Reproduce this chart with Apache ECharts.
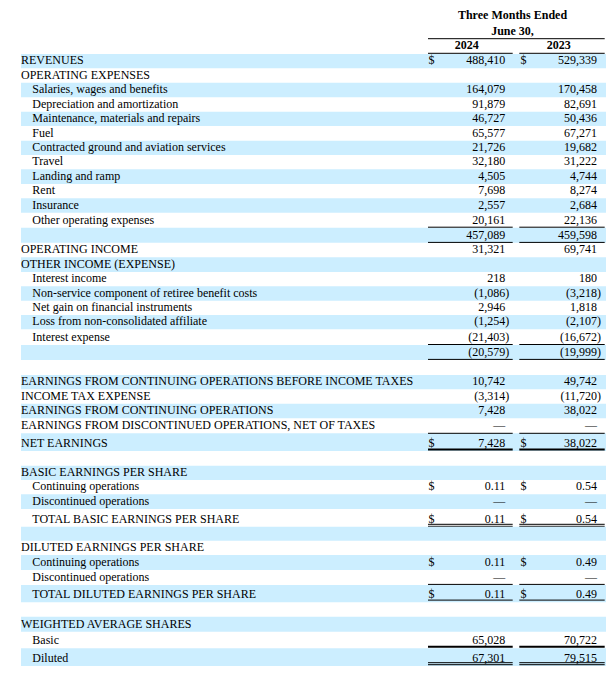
<!DOCTYPE html>
<html>
<head>
<meta charset="utf-8">
<script src="https://cdn.jsdelivr.net/npm/echarts@6/dist/echarts.min.js"></script>
<style>
html,body{margin:0;padding:0;background:#fff;}
#chart{width:606px;height:676px;}
</style>
</head>
<body>
<div id="chart"></div>
<script>
// ---------------- DATA ----------------
const headerTitle = ['Three Months Ended', 'June 30,'];
const periodLabels = ['2024', '2023'];

const rowLabels = [
  'REVENUES',
  'OPERATING EXPENSES',
  'Salaries, wages and benefits',
  'Depreciation and amortization',
  'Maintenance, materials and repairs',
  'Fuel',
  'Contracted ground and aviation services',
  'Travel',
  'Landing and ramp',
  'Rent',
  'Insurance',
  'Other operating expenses',
  '',
  'OPERATING INCOME',
  'OTHER INCOME (EXPENSE)',
  'Interest income',
  'Non-service component of retiree benefit costs',
  'Net gain on financial instruments',
  'Loss from non-consolidated affiliate',
  'Interest expense',
  '',
  '',
  'EARNINGS FROM CONTINUING OPERATIONS BEFORE INCOME TAXES',
  'INCOME TAX EXPENSE',
  'EARNINGS FROM CONTINUING OPERATIONS',
  'EARNINGS FROM DISCONTINUED OPERATIONS, NET OF TAXES',
  'NET EARNINGS',
  '',
  'BASIC EARNINGS PER SHARE',
  'Continuing operations',
  'Discontinued operations',
  'TOTAL BASIC EARNINGS PER SHARE',
  '',
  'DILUTED EARNINGS PER SHARE',
  'Continuing operations',
  'Discontinued operations',
  'TOTAL DILUTED EARNINGS PER SHARE',
  '',
  'WEIGHTED AVERAGE SHARES',
  'Basic',
  'Diluted'
];

const values2024 = [
  488410, null, 164079, 91879, 46727, 65577, 21726, 32180, 4505, 7698, 2557, 20161,
  457089, 31321, null, 218, -1086, 2946, -1254, -21403, -20579, null,
  10742, -3314, 7428, 0, 7428, null,
  null, 0.11, 0, 0.11, null,
  null, 0.11, 0, 0.11, null,
  null, 65028, 67301
];

const values2023 = [
  529339, null, 170458, 82691, 50436, 67271, 19682, 31222, 4744, 8274, 2684, 22136,
  459598, 69741, null, 180, -3218, 1818, -2107, -16672, -19999, null,
  49742, -11720, 38022, 0, 38022, null,
  null, 0.54, 0, 0.54, null,
  null, 0.49, 0, 0.49, null,
  null, 70722, 79515
];

// rows that carry a dollar sign
const dollarRows = [0, 26, 29, 31, 34, 36];

// ---------------- LAYOUT / STYLE ----------------
const indentedRows = [2,3,4,5,6,7,8,9,10,11,15,16,17,18,19,29,30,31,34,35,36,39,40];
const twoDecimalRows = [29,30,31,34,35,36];
const rowHeights = [
  14.3,14.4,14.6,14.4,14.3,14.7,14.3,14.3,14.7,14.3,14.4,15.0,15.0,
  14.6,14.7,14.3,14.4,14.3,14.3,15.7,15.0,15.0,
  14.3,14.4,14.6,15.0,17.7,14.7,
  14.3,14.3,14.7,17.7,14.0,
  14.3,15.0,15.0,17.3,14.4,
  15.0,16.6,17.7
];
const tableTop = 54;
const rules = [
  {row: 12, edge: 'top', kind: 'single', off: -0.5},
  {row: 12, edge: 'bottom', kind: 'single', off: -0.3},
  {row: 20, edge: 'top', kind: 'single', off: -0.5},
  {row: 20, edge: 'bottom', kind: 'single', off: -0.6},
  {row: 26, edge: 'top', kind: 'single', off: 0},
  {row: 26, edge: 'bottom', kind: 'thick', off: -1.4},
  {row: 31, edge: 'bottom', kind: 'double', off: -0.4},
  {row: 36, edge: 'top', kind: 'single', off: -0.6},
  {row: 36, edge: 'bottom', kind: 'single', off: -2.2},
  {row: 39, edge: 'bottom', kind: 'thick', off: -1.6},
  {row: 40, edge: 'bottom', kind: 'double', off: -1.3}
];
const colSpans = [[428, 512.7], [519.3, 604.7]];
const dollarX = [428.6, 520.6];
const numRightX = [505.3, 597];
const labelX = 21, indentX = 32.3, bandLeft = 21, bandRight = 606;
const textLift = 8.1;
const BLUE = '#cceeff';
const FONT = '"Liberation Serif", "Times New Roman", Times, serif';
const FS = 12;

// cumulative row tops
const rowTops = [];
{ let y = tableTop; for (let i = 0; i < rowHeights.length; i++) { rowTops.push(y); y += rowHeights[i]; } }

function fmt(v, row) {
  if (v === null || v === undefined) return '';
  if (v === 0) return '\u2014';
  const a = Math.abs(v);
  const s = twoDecimalRows.includes(row) ? a.toFixed(2) : a.toLocaleString('en-US');
  return v < 0 ? '(' + s + ')' : s;
}

function txt(p, s, align, bold) {
  return {
    type: 'text', x: p[0], y: p[1], silent: true,
    style: { text: s, fill: '#000', fontFamily: FONT, fontSize: FS,
             fontWeight: bold ? 'bold' : 'normal', align: align, verticalAlign: 'middle' }
  };
}
function hline(api, x1, x2, y, w) {
  const a = api.coord([x1, y]), b = api.coord([x2, y]);
  return { type: 'line', silent: true,
    shape: { x1: a[0], y1: a[1], x2: b[0], y2: b[1] },
    style: { stroke: '#000', lineWidth: w } };
}

function renderRow(params, api) {
  const i = params.dataIndex;
  const top = rowTops[i], h = rowHeights[i], bottom = top + h;
  const children = [];
  if (i % 2 === 0) {
    const p1 = api.coord([bandLeft, top]), p2 = api.coord([bandRight, bottom]);
    children.push({ type: 'rect', silent: true,
      shape: { x: p1[0], y: p1[1], width: p2[0] - p1[0], height: p2[1] - p1[1] },
      style: { fill: BLUE } });
  }
  const ty = bottom - textLift;
  const lx = indentedRows.includes(i) ? indentX : labelX;
  if (rowLabels[i]) children.push(txt(api.coord([lx, ty]), rowLabels[i], 'left', false));
  [values2024, values2023].forEach((vals, c) => {
    const v = vals[i];
    if (v === null) return;
    if (dollarRows.includes(i)) children.push(txt(api.coord([dollarX[c], ty]), '$', 'left', false));
    const s = fmt(v, i);
    const rx = numRightX[c] + (v < 0 ? 4 : 0);
    children.push(txt(api.coord([rx, ty]), s, 'right', false));
  });
  rules.filter(r => r.row === i).forEach(r => {
    const base = (r.edge === 'top' ? top : bottom) + r.off;
    colSpans.forEach(span => {
      if (r.kind === 'single') children.push(hline(api, span[0], span[1], base, 1));
      else if (r.kind === 'thick') children.push(hline(api, span[0], span[1], base, 2));
      else { children.push(hline(api, span[0], span[1], base - 2, 1)); children.push(hline(api, span[0], span[1], base, 1)); }
    });
  });
  return { type: 'group', children: children };
}

function renderHeader(params, api) {
  const children = [];
  children.push(txt(api.coord([512.5, 15.2]), headerTitle[0], 'center', true));
  children.push(txt(api.coord([512.5, 31.2]), headerTitle[1], 'center', true));
  children.push(hline(api, colSpans[0][0], colSpans[1][1], 38.7, 1));
  children.push(txt(api.coord([466.7, 45.2]), periodLabels[0], 'center', true));
  children.push(txt(api.coord([558.7, 45.2]), periodLabels[1], 'center', true));
  colSpans.forEach(s => children.push(hline(api, s[0], s[1], 53.3, 1)));
  return { type: 'group', children: children };
}

const chart = echarts.init(document.getElementById('chart'), null, { renderer: 'svg' });
chart.setOption({
  animation: false,
  backgroundColor: '#fff',
  grid: { left: 0, right: 0, top: 0, bottom: 0 },
  xAxis: { type: 'value', min: 0, max: 606, show: false },
  yAxis: { type: 'value', min: 0, max: 676, inverse: true, show: false },
  series: [
    { type: 'custom', coordinateSystem: 'cartesian2d', renderItem: renderRow,
      data: rowLabels.map((_, i) => [0, rowTops[i]]), clip: false },
    { type: 'custom', coordinateSystem: 'cartesian2d', renderItem: renderHeader,
      data: [[0, 0]], clip: false }
  ]
});
</script>
</body>
</html>
